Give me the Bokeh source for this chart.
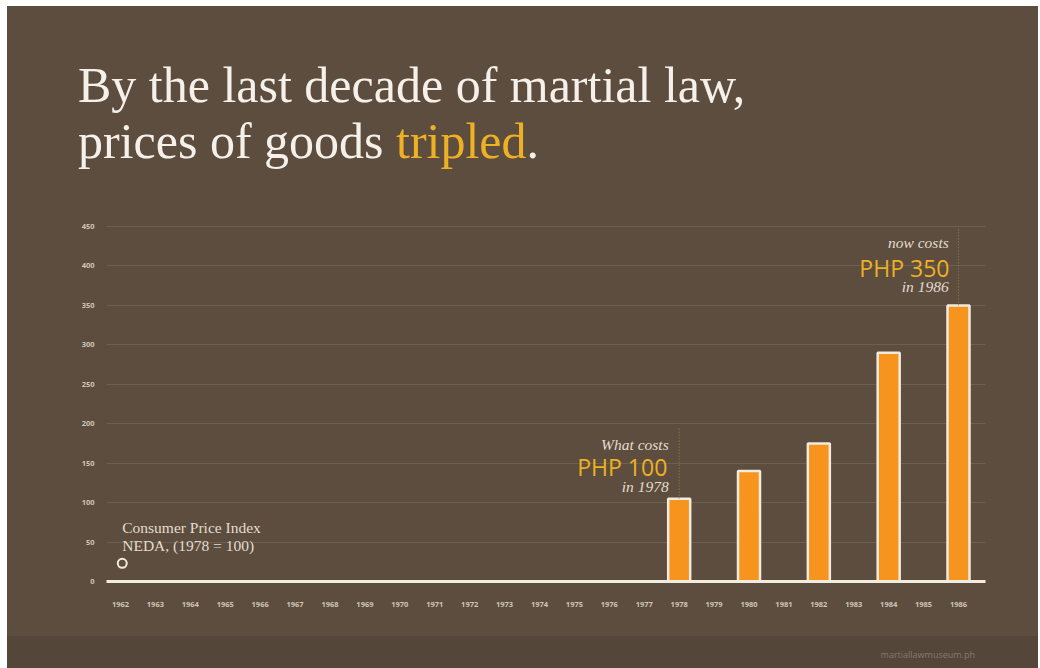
from bokeh.plotting import figure
from bokeh.models import Range1d, Label, FixedTicker, Div
from bokeh.layouts import column
from bokeh.embed import file_html
from bokeh.resources import INLINE

# data
years = [1978, 1980, 1982, 1984, 1986]
cpi = [105, 140, 175, 290, 350]
legend_year = [1962.05]
legend_val = [23]
tick_years = list(range(1962, 1987))
y_ticks = [0, 50, 100, 150, 200, 250, 300, 350, 400, 450]
title_1 = "By the last decade of martial law,"
title_2a = "prices of goods"
title_2b = "tripled"
footer_text = "martiallawmuseum.ph"

BG = "#5c4d3e"
GOLD = "#eeb024"
ORANGE = "#f7941d"
CREAM = "#f1ebe0"
TXT = "#e3dccf"


def lab(fig, text, x, y, size, color, font="Liberation Serif", style="normal", align="left"):
    fig.add_layout(Label(x=x, y=y, text=text, text_font=font,
                         text_font_style=style, text_font_size=size, text_color=color,
                         text_align=align, text_baseline="alphabetic"))


# header with title
h = Div(width=1031, height=200,
        text=(f'<div style="margin:0;padding:51px 0 0 71px;font-family:\'Liberation Serif\';'
              f'font-size:50px;line-height:56px;color:#f5f1ea;white-space:nowrap">'
              f'{title_1}<br>{title_2a} <span style="color:{GOLD}">{title_2b}</span>.</div>'),
        styles={"background-color": BG, "margin": "0", "padding": "0"})

# main chart
p = figure(width=1031, height=430, output_backend="svg", toolbar_location=None,
           x_range=Range1d(1961.599, 1986.773), y_range=Range1d(0, 462.7),
           min_border_left=99, min_border_right=53, min_border_top=10, min_border_bottom=55)
p.background_fill_color = None
p.border_fill_color = BG
p.outline_line_color = None

p.xgrid.grid_line_color = None
p.ygrid.grid_line_color = "#6e6051"
p.ygrid.ticker = FixedTicker(ticks=y_ticks[1:])

p.xaxis.ticker = FixedTicker(ticks=tick_years)
p.yaxis.ticker = FixedTicker(ticks=y_ticks)
p.xaxis.axis_line_color = CREAM
p.xaxis.axis_line_width = 3
p.yaxis.axis_line_color = None
for ax in (p.xaxis, p.yaxis):
    ax.major_tick_line_color = None
    ax.minor_tick_line_color = None
    ax.major_label_text_color = "#cfc5b6"
    ax.major_label_text_font = "Open Sans"
    ax.major_label_text_font_style = "bold"
    ax.major_label_text_font_size = "7.5px"
p.xaxis.major_label_standoff = 14
p.yaxis.major_label_standoff = 6

p.vbar(x=years, top=cpi, width=0.63, bottom=0, fill_color=ORANGE, line_color=CREAM, line_width=2.5)
p.scatter(x=legend_year, y=legend_val, size=9, fill_color=None, line_color=CREAM, line_width=2)

p.segment(x0=[years[0], years[-1]], y0=[cpi[0], cpi[-1]], x1=[years[0], years[-1]], y1=[194, 447],
          line_color="#9a8640", line_dash="1 2", line_width=1)

lab(p, "What costs", 1977.7, 174, "15.5px", TXT, style="italic", align="right")
lab(p, "PHP 100", 1977.66, 144.6, "23px", GOLD, font="Open Sans", align="right")
lab(p, "in 1978", 1977.7, 120, "15.5px", TXT, style="italic", align="right")
lab(p, "now costs", 1985.72, 430, "15.5px", TXT, style="italic", align="right")
lab(p, "PHP 350", 1985.74, 398, "23px", GOLD, font="Open Sans", align="right")
lab(p, "in 1986", 1985.72, 374, "15.5px", TXT, style="italic", align="right")
lab(p, "Consumer Price Index", 1962.05, 68.4, "15.5px", TXT)
lab(p, "NEDA, (1978 = 100)", 1962.05, 45.6, "15.5px", TXT)

# footer band
f = Div(width=1031, height=32,
        text=(f'<div style="width:968px;text-align:right;padding-top:14px;font-family:\'Open Sans\';'
              f'font-size:9px;line-height:10px;color:#85786a">{footer_text}</div>'),
        styles={"background-color": "#54473a", "margin": "0", "padding": "0"})

layout = column(h, p, f, spacing=0)
layout.margin = (6, 0, 0, 7)
layout.styles = {"background-color": BG}

open("out.html", "w").write(file_html(layout, INLINE))
